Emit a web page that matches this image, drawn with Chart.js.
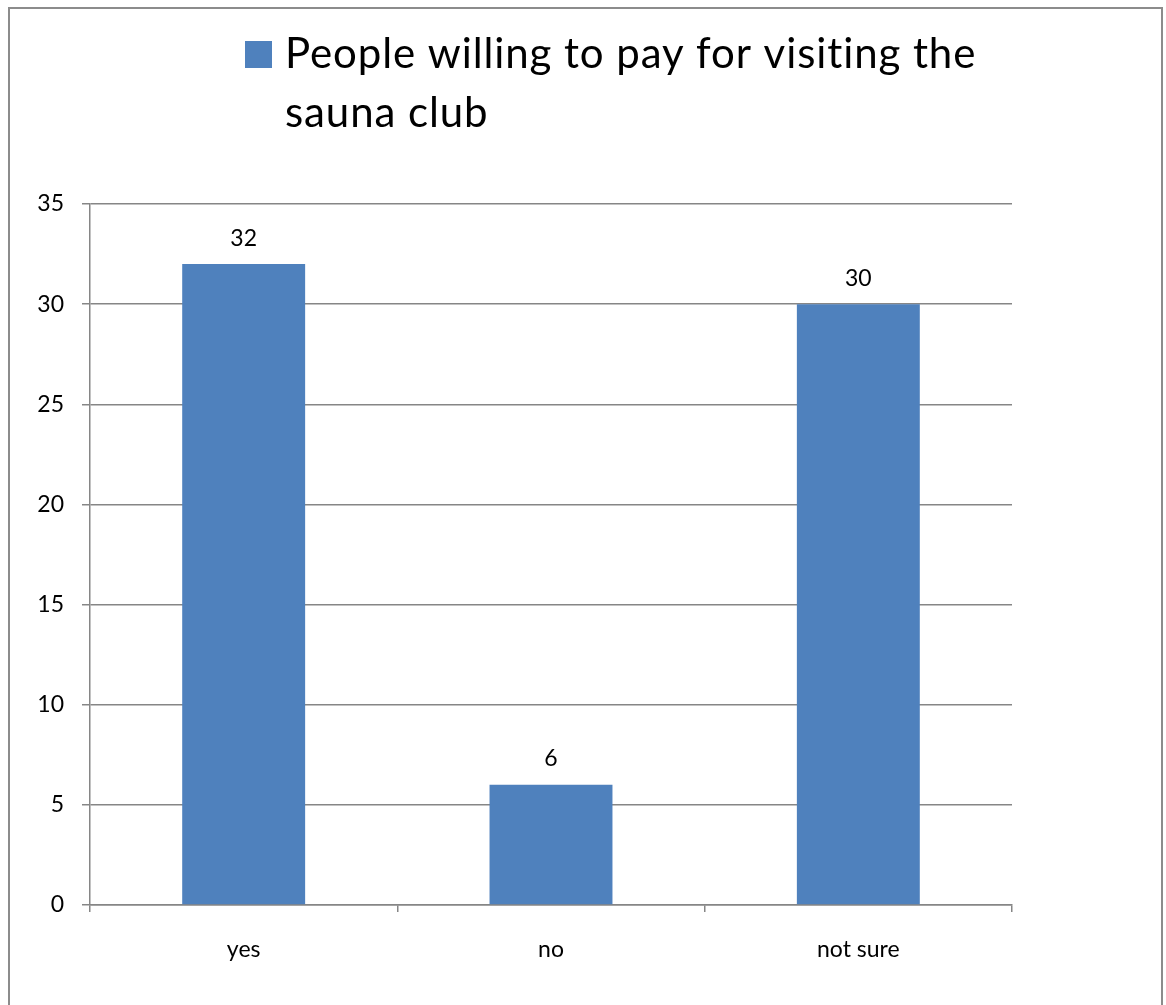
<!DOCTYPE html>
<html>
<head>
<meta charset="utf-8">
<script src="https://cdn.jsdelivr.net/npm/chart.js@4/dist/chart.umd.min.js"></script>
<style>
  html, body { margin: 0; padding: 0; background: #fff; overflow: hidden; }
  #frame {
    position: absolute; left: 8px; top: 7px; width: 1151px; height: 1100px;
    border: 2px solid #8c8c8c; border-bottom: none;
  }
  #wrap { position: absolute; left: 0; top: 0; width: 1166px; height: 1005px; }
</style>
</head>
<body>
<div id="frame"></div>
<div id="wrap"><canvas id="sauna_chart"></canvas></div>
<script>
const categories = ["yes", "no", "not sure"];
const values = [32, 6, 30];
const seriesName = "People willing to pay for visiting the sauna club";
const legendLines = ["People willing to pay for visiting the", "sauna club"];
const yTicks = [0, 5, 10, 15, 20, 25, 30, 35];

const barColor = "#4F81BD";
const lineColor = "#868686";
const fontFamily = "Lato, 'Open Sans', sans-serif";

const ctx = document.getElementById("sauna_chart");

// draws the value above each bar
const valueLabels = {
  id: "valueLabels",
  afterDatasetsDraw(chart) {
    const c = chart.ctx;
    const meta = chart.getDatasetMeta(0);
    c.save();
    c.fillStyle = "#000";
    c.font = "23px " + fontFamily;
    c.textAlign = "center";
    c.textBaseline = "middle";
    meta.data.forEach((bar, i) => {
      c.fillText(String(chart.data.datasets[0].data[i]), bar.x, bar.y - 26);
    });
    c.restore();
  },
};

// legend box with wrapped text, like the spreadsheet one
const wrappedLegend = {
  id: "wrappedLegend",
  afterDraw(chart) {
    const c = chart.ctx;
    c.save();
    c.fillStyle = chart.data.datasets[0].backgroundColor;
    c.fillRect(245, 41, 27, 27);
    c.fillStyle = "#000";
    c.font = "42px " + fontFamily;
    c.letterSpacing = "0.9px";
    c.textAlign = "left";
    c.textBaseline = "alphabetic";
    legendLines.forEach((line, i) => {
      c.fillText(line, 285, 68 + i * 58.5);
    });
    c.restore();
  },
};

const saunaChart = new Chart(ctx, {
  type: "bar",
  data: {
    labels: categories,
    datasets: [
      {
        label: seriesName,
        data: values,
        backgroundColor: barColor,
        borderWidth: 0,
        barPercentage: 0.4,
        categoryPercentage: 1.0,
      },
    ],
  },
  options: {
    responsive: true,
    maintainAspectRatio: false,
    animation: false,
    layout: {
      padding: { left: 10, right: 154, top: 204, bottom: 40 },
    },
    plugins: {
      legend: { display: false },
      tooltip: { enabled: false },
    },
    scales: {
      y: {
        min: 0,
        max: 35,
        afterFit: (scale) => { scale.width = 80; },
        afterBuildTicks: (scale) => {
          scale.ticks = yTicks.map((v) => ({ value: v }));
        },
        ticks: {
          color: "#000",
          padding: 18,
          font: { family: fontFamily, size: 23 },
        },
        grid: {
          color: lineColor,
          lineWidth: 1.5,
          tickLength: 8,
          drawTicks: true,
        },
        border: { display: true, color: lineColor, width: 1.5 },
      },
      x: {
        afterFit: (scale) => { scale.height = 60; },
        ticks: {
          color: "#000",
          padding: 24,
          font: { family: fontFamily, size: 23 },
        },
        grid: {
          offset: true,
          drawOnChartArea: false,
          drawTicks: true,
          tickLength: 7,
          color: lineColor,
          lineWidth: 1.5,
        },
        border: { display: true, color: lineColor, width: 1.5 },
      },
    },
  },
  plugins: [valueLabels, wrappedLegend],
});
</script>
</body>
</html>
